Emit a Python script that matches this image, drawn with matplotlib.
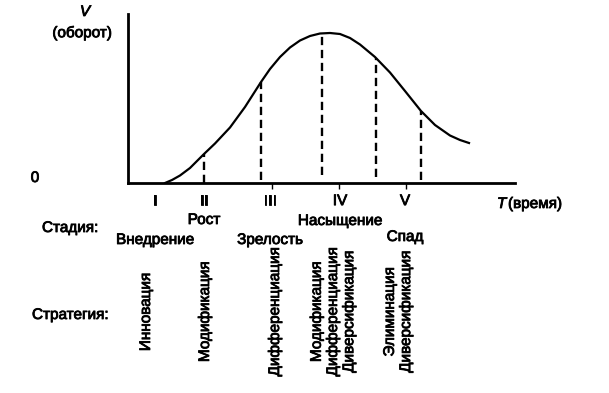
import numpy as np
import matplotlib
matplotlib.use('Agg')
import matplotlib.pyplot as plt
import matplotlib.patheffects as pe

plt.rcParams['font.family'] = ['Liberation Sans', 'DejaVu Sans']

# кривая жизненного цикла товара (время, оборот)
t_curve = [3.7, 4.4, 5.2, 6.2, 7.6, 8.7, 10.2, 11.7, 13.3, 14.2, 15.2, 16.2, 17.2,
           18.2, 19.2, 20.2, 21.2, 22.2, 23.2, 24.7, 26.2, 27.7, 29.3, 30.7, 32.2,
           33.2, 34.1]
v_curve = [0.0, 0.3, 0.75, 1.5, 2.9, 3.95, 5.55, 7.6, 10.1, 11.4, 12.6, 13.55, 14.25,
           14.7, 14.95, 15.0, 14.9, 14.5, 13.85, 12.6, 11.05, 9.2, 7.2, 5.8, 4.75,
           4.3, 4.0]

# границы стадий (пунктир)
t_bounds = [7.6, 13.3, 19.4, 24.8, 29.3]
v_bounds_top = [2.9, 10.1, 14.8, 12.5, 7.2]
v_bounds_bottom = [0.0, 0.3, 0.8, 0.6, 0.3]

# стадии
stage_t = [2.7, 7.6, 14.2, 21.2, 27.7]
stage_roman = ['I', 'II', 'III', 'IV', 'V']
stage_names = ['Внедрение', 'Рост', 'Зрелость', 'Насыщение', 'Спад']
tick_t = [7.6, 14.4, 21.1, 27.8]

# стратегии
strategies = ['Инновация', 'Модификация', 'Дифференциация',
              'Модификация\nДифференциация\nДиверсификация',
              'Элиминация\nДиверсификация']
strategy_px = [146, 205, 275, 333, 398]

W, H = 609, 393
fig = plt.figure(figsize=(W / 100, H / 100), dpi=100)
ax = fig.add_axes([128 / W, 1 - 183 / H, (515 - 128) / W, (183 - 14) / H])
ax.set_xlim(0, 38.7)
ax.set_ylim(0, 16.9)

ax.plot(t_curve, v_curve, color='black', lw=1.6)
ax.vlines(t_bounds, v_bounds_bottom, v_bounds_top, colors='black',
          linestyles=(0, (3.5, 2)), lw=1.7)

for s in ['top', 'right']:
    ax.spines[s].set_visible(False)
for s in ['left', 'bottom']:
    ax.spines[s].set_linewidth(2)
ax.set_yticks([])
ax.set_xticks(stage_t, stage_roman, fontsize=11)
ax.tick_params(axis='x', length=0, pad=8)
ax.set_xticks(tick_t, minor=True)
ax.tick_params(axis='x', which='minor', length=4, width=1)

# чуть толще буквы, как на скане
thick = [pe.withStroke(linewidth=0.6, foreground='black')]
for lbl in ax.get_xticklabels():
    lbl.set_path_effects(thick)


def px(x, y):
    return x / W, 1 - y / H


fs = 11
kw = dict(fontsize=fs, path_effects=thick)
fig.text(*px(35, 178), '0', ha='center', va='center', **kw)
fig.text(*px(85, 12), 'V', style='italic', ha='center', va='center', **kw)
fig.text(*px(82, 33), '(оборот)', ha='center', va='center', **kw)
fig.text(*px(497, 204), 'T', style='italic', ha='left', va='center', **kw)
fig.text(*px(508, 204), '(время)', ha='left', va='center', **kw)

fig.text(*px(42, 228), 'Стадия:', ha='left', va='center', **kw)
rows = [240, 220, 240, 221, 237]
for t, name, y in zip(stage_t, stage_names, rows):
    x = ax.transData.transform((t, 0))[0]
    fig.text(x / W, 1 - y / H, name, ha='center', va='center', **kw)

fig.text(*px(32, 315), 'Стратегия:', ha='left', va='center', **kw)
for x, s in zip(strategy_px, strategies):
    fig.text(*px(x, 312), s, rotation=90, ha='center', va='center',
             multialignment='center', linespacing=1.2, **kw)

fig.savefig('out.png', dpi=100)
